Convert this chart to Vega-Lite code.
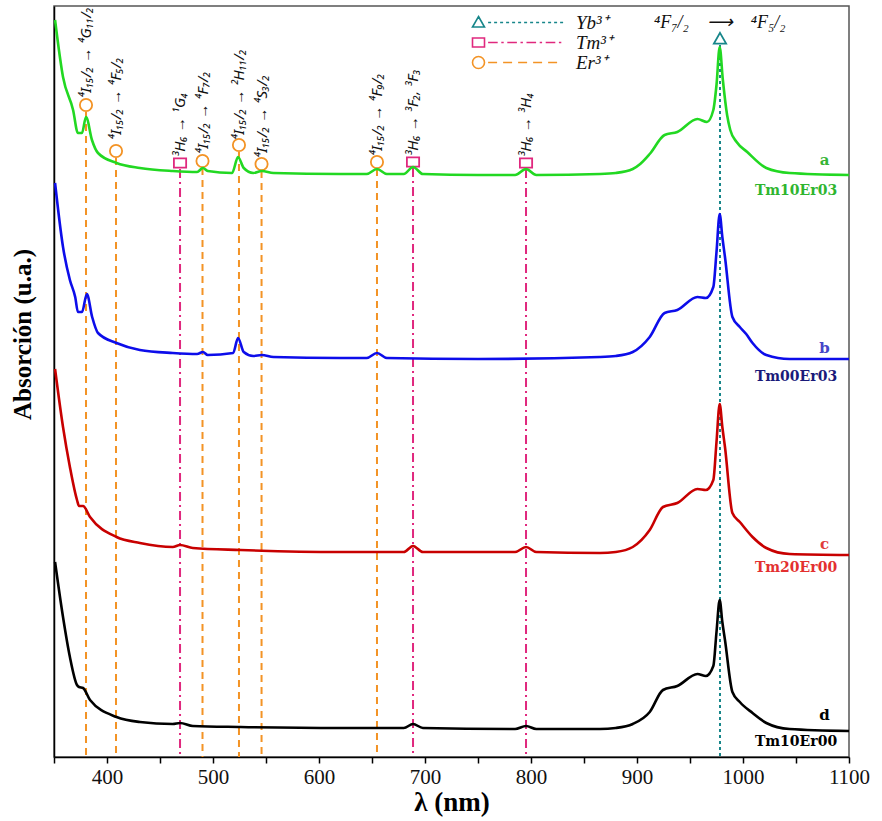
{
  "$schema": "https://vega.github.io/schema/vega-lite/v6.json",
  "autosize": {"type": "none"},
  "padding": {"left": 54, "top": 6, "right": 33, "bottom": 64},
  "width": 795,
  "height": 751,
  "background": "white",
  "config": {
    "view": {"stroke": "#555", "strokeWidth": 1.5},
    "axis": {"domainColor": "#000", "domainWidth": 1.5, "tickColor": "#000", "grid": false}
  },
  "datasets": {
    "curves": [
      {"s":"a","nm":351,"A":737},{"s":"a","nm":358.5,"A":680},{"s":"a","nm":368,"A":647},{"s":"a","nm":372.6,"A":624},{"s":"a","nm":376.4,"A":624},{"s":"a","nm":380.2,"A":640},{"s":"a","nm":385.8,"A":617},{"s":"a","nm":391.5,"A":604},{"s":"a","nm":409,"A":594},{"s":"a","nm":431,"A":589},{"s":"a","nm":462,"A":586},{"s":"a","nm":485,"A":585},{"s":"a","nm":490.5,"A":589},{"s":"a","nm":495,"A":586},{"s":"a","nm":518,"A":584},{"s":"a","nm":523.6,"A":600},{"s":"a","nm":529,"A":589},{"s":"a","nm":538,"A":584},{"s":"a","nm":546,"A":586},{"s":"a","nm":557,"A":584},{"s":"a","nm":620,"A":583},{"s":"a","nm":645,"A":583},{"s":"a","nm":654.7,"A":588},{"s":"a","nm":664,"A":583},{"s":"a","nm":680,"A":583},{"s":"a","nm":688.7,"A":590},{"s":"a","nm":698,"A":583},{"s":"a","nm":750,"A":582},{"s":"a","nm":785,"A":582},{"s":"a","nm":795.3,"A":588},{"s":"a","nm":805,"A":582},{"s":"a","nm":865,"A":583},{"s":"a","nm":880,"A":584},{"s":"a","nm":896,"A":588},{"s":"a","nm":903,"A":593},{"s":"a","nm":912,"A":603},{"s":"a","nm":926,"A":622},{"s":"a","nm":938,"A":625},{"s":"a","nm":957,"A":638},{"s":"a","nm":966,"A":635},{"s":"a","nm":972,"A":647},{"s":"a","nm":975,"A":672},{"s":"a","nm":978,"A":710},{"s":"a","nm":981,"A":677},{"s":"a","nm":985,"A":642},{"s":"a","nm":988,"A":627},{"s":"a","nm":994,"A":615},{"s":"a","nm":1004,"A":605},{"s":"a","nm":1022,"A":589},{"s":"a","nm":1044,"A":584},{"s":"a","nm":1100,"A":582},
      {"s":"b","nm":351,"A":574},{"s":"b","nm":358.5,"A":510},{"s":"b","nm":365,"A":477},{"s":"b","nm":370,"A":460},{"s":"b","nm":372.6,"A":445},{"s":"b","nm":376.4,"A":445},{"s":"b","nm":381,"A":463},{"s":"b","nm":386,"A":440},{"s":"b","nm":391.5,"A":424},{"s":"b","nm":409,"A":414},{"s":"b","nm":431,"A":407},{"s":"b","nm":462,"A":404},{"s":"b","nm":485,"A":403},{"s":"b","nm":490.5,"A":405},{"s":"b","nm":495,"A":402},{"s":"b","nm":519,"A":404},{"s":"b","nm":523.6,"A":419},{"s":"b","nm":529,"A":405},{"s":"b","nm":538,"A":401},{"s":"b","nm":546,"A":402},{"s":"b","nm":557,"A":400},{"s":"b","nm":620,"A":399},{"s":"b","nm":645,"A":399},{"s":"b","nm":654.7,"A":404},{"s":"b","nm":664,"A":399},{"s":"b","nm":750,"A":398},{"s":"b","nm":865,"A":400},{"s":"b","nm":880,"A":401},{"s":"b","nm":896,"A":405},{"s":"b","nm":912,"A":420},{"s":"b","nm":926,"A":444},{"s":"b","nm":938,"A":447},{"s":"b","nm":957,"A":460},{"s":"b","nm":965,"A":459},{"s":"b","nm":972,"A":470},{"s":"b","nm":975,"A":505},{"s":"b","nm":978,"A":543},{"s":"b","nm":980.5,"A":520},{"s":"b","nm":983,"A":500},{"s":"b","nm":990,"A":440},{"s":"b","nm":997,"A":430},{"s":"b","nm":1003,"A":423},{"s":"b","nm":1009,"A":414},{"s":"b","nm":1022,"A":402},{"s":"b","nm":1044,"A":398},{"s":"b","nm":1100,"A":398},
      {"s":"c","nm":351,"A":388},{"s":"c","nm":358.5,"A":330},{"s":"c","nm":365,"A":290},{"s":"c","nm":371.7,"A":257},{"s":"c","nm":373.6,"A":251},{"s":"c","nm":377.4,"A":251},{"s":"c","nm":384,"A":240},{"s":"c","nm":409,"A":220},{"s":"c","nm":431,"A":214},{"s":"c","nm":462,"A":210},{"s":"c","nm":468.9,"A":212},{"s":"c","nm":481,"A":209},{"s":"c","nm":526,"A":207},{"s":"c","nm":620,"A":205},{"s":"c","nm":680,"A":205},{"s":"c","nm":688.7,"A":211},{"s":"c","nm":698,"A":205},{"s":"c","nm":785,"A":205},{"s":"c","nm":795.3,"A":210},{"s":"c","nm":805,"A":205},{"s":"c","nm":865,"A":204},{"s":"c","nm":880,"A":205},{"s":"c","nm":896,"A":210},{"s":"c","nm":912,"A":227},{"s":"c","nm":924.5,"A":250},{"s":"c","nm":938,"A":254},{"s":"c","nm":957,"A":268},{"s":"c","nm":965,"A":267},{"s":"c","nm":972,"A":277},{"s":"c","nm":975,"A":315},{"s":"c","nm":978,"A":353},{"s":"c","nm":980.5,"A":330},{"s":"c","nm":983,"A":310},{"s":"c","nm":990,"A":244},{"s":"c","nm":997,"A":235},{"s":"c","nm":1009,"A":220},{"s":"c","nm":1022,"A":209},{"s":"c","nm":1044,"A":203},{"s":"c","nm":1100,"A":202},
      {"s":"d","nm":351,"A":195},{"s":"d","nm":358.5,"A":140},{"s":"d","nm":365,"A":100},{"s":"d","nm":371.7,"A":72},{"s":"d","nm":373.6,"A":70},{"s":"d","nm":377.4,"A":69},{"s":"d","nm":384,"A":57},{"s":"d","nm":409,"A":40},{"s":"d","nm":431,"A":35},{"s":"d","nm":462,"A":33},{"s":"d","nm":468.9,"A":34},{"s":"d","nm":481,"A":31},{"s":"d","nm":526,"A":30},{"s":"d","nm":620,"A":29},{"s":"d","nm":680,"A":29},{"s":"d","nm":688.7,"A":33},{"s":"d","nm":698,"A":29},{"s":"d","nm":785,"A":28},{"s":"d","nm":795.3,"A":31},{"s":"d","nm":805,"A":28},{"s":"d","nm":865,"A":28},{"s":"d","nm":880,"A":29},{"s":"d","nm":896,"A":33},{"s":"d","nm":912,"A":45},{"s":"d","nm":924.5,"A":67},{"s":"d","nm":938,"A":71},{"s":"d","nm":957,"A":83},{"s":"d","nm":965,"A":81},{"s":"d","nm":972,"A":91},{"s":"d","nm":975,"A":125},{"s":"d","nm":978,"A":157},{"s":"d","nm":980.5,"A":135},{"s":"d","nm":983,"A":117},{"s":"d","nm":990,"A":65},{"s":"d","nm":997,"A":55},{"s":"d","nm":1009,"A":44},{"s":"d","nm":1022,"A":34},{"s":"d","nm":1044,"A":28},{"s":"d","nm":1100,"A":26}
    ],
    "bands": [
      {"ion":"Er³⁺","nm":380.2,"A":652},{"ion":"Er³⁺","nm":408.5,"A":606},{"ion":"Tm³⁺","nm":468.9,"A":594},{"ion":"Er³⁺","nm":490.1,"A":596},{"ion":"Er³⁺","nm":524.5,"A":612},{"ion":"Er³⁺","nm":545.8,"A":593},{"ion":"Er³⁺","nm":654.7,"A":595},{"ion":"Tm³⁺","nm":688.7,"A":595},{"ion":"Tm³⁺","nm":795.3,"A":594},{"ion":"Yb³⁺","nm":978.3,"A":718}
    ],
    "transitions": [
      {"nm":380.2,"A":659,"t":"⁴I₁₅/₂ → ⁴G₁₁/₂"},
      {"nm":408.5,"A":617,"t":"⁴I₁₅/₂ → ⁴F₅/₂"},
      {"nm":468.9,"A":600,"t":"³H₆ → ¹G₄"},
      {"nm":490.1,"A":603,"t":"⁴I₁₅/₂ → ⁴F₇/₂"},
      {"nm":524.5,"A":617,"t":"⁴I₁₅/₂ → ²H₁₁/₂"},
      {"nm":545.8,"A":599,"t":"⁴I₁₅/₂ → ⁴S₃/₂"},
      {"nm":654.7,"A":601,"t":"⁴I₁₅/₂ → ⁴F₉/₂"},
      {"nm":688.7,"A":601,"t":"³H₆ → ³F₂, ³F₃"},
      {"nm":795.3,"A":600,"t":"³H₆ → ³H₄"}
    ],
    "names": [
      {"k":"a","nm":1077,"A":597,"kind":"letter"},
      {"k":"Tm10Er03","nm":1050,"A":566,"kind":"name"},
      {"k":"b","nm":1077,"A":409,"kind":"letter"},
      {"k":"Tm00Er03","nm":1050,"A":380,"kind":"name"},
      {"k":"c","nm":1077,"A":213,"kind":"letter"},
      {"k":"Tm20Er00","nm":1050,"A":189,"kind":"name"},
      {"k":"d","nm":1077,"A":42,"kind":"letter"},
      {"k":"Tm10Er00","nm":1050,"A":15,"kind":"name"}
    ],
    "yb": [{"nm":978,"A":734,"t":"⁴F₇/₂\u2002\u2002⟶\u2002\u2002⁴F₅/₂"}]
  },
  "encoding": {
    "x": {"field":"nm","type":"quantitative","scale":{"domain":[350,1100],"nice":false,"zero":false},
      "axis":{"title":"λ (nm)","values":[350,400,450,500,550,600,650,700,750,800,850,900,950,1000,1050,1100],
        "labelExpr":"datum.value % 100 === 0 ? datum.label : ''","format":"d","labelOverlap":false,"labelFlush":false,
        "tickSize":6,"tickWidth":1.5,"labelFont":"Liberation Serif","labelFontSize":21,"labelColor":"#111","labelPadding":3,
        "titleFont":"Liberation Serif","titleFontSize":27,"titleFontWeight":"bold","titlePadding":2,"titleColor":"#000"}},
    "y": {"field":"A","type":"quantitative","scale":{"domain":[0,751],"nice":false,"zero":true},
      "axis":{"title":"Absorción (u.a.)","ticks":false,"labels":false,"titleFont":"Liberation Serif","titleFontSize":25,
        "titleFontWeight":"bold","titleColor":"#000","titleX":-32,"titleY":328,"titleBaseline":"middle","titleAlign":"center"}}
  },
  "layer": [
    {
      "data": {"name":"bands"},
      "transform": [{"filter":"datum.ion === 'Er³⁺'"}],
      "mark": {"type":"point","filled":false,"fill":"white","fillOpacity":1,"strokeWidth":1.8,"size":150,"opacity":1,
        "shape":"M1,0A1,1,0,1,1,-1,0A1,1,0,1,1,1,0Z"},
      "encoding": {
        "color": {"field":"ion","type":"nominal","scale":{"domain":["Yb³⁺","Tm³⁺","Er³⁺"],"range":["#17868a","#e0287e","#f39325"]},
          "legend":{"orient":"none","legendX":415,"legendY":7,"title":null,"symbolSize":144,"symbolStrokeWidth":1.6,
            "labelOffset":88,"labelFont":"Liberation Serif","labelFontStyle":"italic","labelFontSize":19,"labelColor":"#111",
            "rowPadding":-6,"padding":0,"symbolFillColor":"white",
            "symbolType":{"expr":"datum.value === 'Yb³⁺' ? 'M0,-1L1,0.75L-1,0.75ZM1.6,0L2.1,0M2.6,0L3.1,0M3.6,0L4.1,0M4.6,0L5.1,0M5.6,0L6.1,0M6.6,0L7.1,0M7.6,0L8.1,0M8.6,0L9.1,0M9.6,0L10.1,0M10.6,0L11.1,0M11.6,0L12.1,0M12.6,0L13.1,0M13.6,0L14.1,0' : datum.value === 'Tm³⁺' ? 'M-1,-0.75L1,-0.75L1,0.75L-1,0.75ZM1.6,0L3.2,0M3.8,0L4.2,0M4.8,0L6.4,0M7,0L7.4,0M8,0L9.6,0M10.2,0L10.6,0M11.2,0L12.8,0M13.4,0L13.8,0' : 'M1,0A1,1,0,1,1,-1,0A1,1,0,1,1,1,0ZM1.6,0L3.1,0M4.1,0L5.6,0M6.6,0L8.1,0M9.1,0L10.6,0M11.6,0L13.1,0'"}}}
      }
    },
    {
      "data": {"name":"bands"},
      "transform": [{"filter":"datum.ion === 'Tm³⁺'"}],
      "mark": {"type":"point","filled":false,"fill":"white","fillOpacity":1,"strokeWidth":1.8,"size":150,"opacity":1,
        "shape":"M-1,-0.75L1,-0.75L1,0.75L-1,0.75Z"},
      "encoding": {
        "color": {"field":"ion","type":"nominal","scale":{"domain":["Yb³⁺","Tm³⁺","Er³⁺"],"range":["#17868a","#e0287e","#f39325"]}}}
    },
    {
      "data": {"name":"bands"},
      "transform": [{"filter":"datum.ion === 'Yb³⁺'"}],
      "mark": {"type":"point","filled":false,"fill":"white","fillOpacity":1,"strokeWidth":1.8,"size":150,"opacity":1,
        "shape":"M0,-1L1,0.75L-1,0.75Z"},
      "encoding": {
        "color": {"field":"ion","type":"nominal","scale":{"domain":["Yb³⁺","Tm³⁺","Er³⁺"],"range":["#17868a","#e0287e","#f39325"]}}}
    },
    {
      "data": {"name":"bands"},
      "transform": [{"filter":"datum.ion === 'Er³⁺'"}],
      "mark": {"type":"rule","strokeWidth":2,"strokeDash":[7,5],"yOffset":7},
      "encoding": {"y2": {"datum":0},
        "color": {"field":"ion","type":"nominal","scale":{"domain":["Yb³⁺","Tm³⁺","Er³⁺"],"range":["#17868a","#e0287e","#f39325"]}}}
    },
    {
      "data": {"name":"bands"},
      "transform": [{"filter":"datum.ion === 'Tm³⁺'"}],
      "mark": {"type":"rule","strokeWidth":2,"strokeDash":[9,4,2,4],"yOffset":6},
      "encoding": {"y2": {"datum":0},
        "color": {"field":"ion","type":"nominal","scale":{"domain":["Yb³⁺","Tm³⁺","Er³⁺"],"range":["#17868a","#e0287e","#f39325"]}}}
    },
    {
      "data": {"name":"bands"},
      "transform": [{"filter":"datum.ion === 'Yb³⁺'"}],
      "mark": {"type":"rule","strokeWidth":2,"strokeDash":[3,3],"yOffset":6},
      "encoding": {"y2": {"datum":0},
        "color": {"field":"ion","type":"nominal","scale":{"domain":["Yb³⁺","Tm³⁺","Er³⁺"],"range":["#17868a","#e0287e","#f39325"]}}}
    },
    {
      "data": {"name":"curves"},
      "mark": {"type":"line","strokeWidth":2.6,"interpolate":"monotone"},
      "encoding": {
        "stroke": {"field":"s","type":"nominal","legend":null,"scale":{"domain":["a","b","c","d"],"range":["#22d822","#0d0dea","#c80000","#000000"]}}
      }
    },
    {
      "data": {"name":"transitions"},
      "mark": {"type":"text","angle":270,"align":"left","baseline":"middle","font":"Noto Sans","fontSize":15,"fontStyle":"italic","color":"#111"},
      "encoding": {"text": {"field":"t"}}
    },
    {
      "data": {"name":"yb"},
      "mark": {"type":"text","align":"center","baseline":"middle","font":"Liberation Serif","fontSize":18,"fontStyle":"italic","color":"#111"},
      "encoding": {"text": {"field":"t"}}
    },
    {
      "data": {"name":"names"},
      "transform": [{"filter":"datum.kind === 'letter'"}],
      "mark": {"type":"text","align":"center","baseline":"middle","font":"DejaVu Serif","fontSize":15,"fontWeight":"bold"},
      "encoding": {"text": {"field":"k"},
        "fill": {"field":"k","type":"nominal","legend":null,"scale":{"domain":["a","Tm10Er03","b","Tm00Er03","c","Tm20Er00","d","Tm10Er00"],
          "range":["#36b536","#2fb52f","#4646c8","#1a1a7a","#e03a3a","#e33030","#000000","#000000"]}}}
    },
    {
      "data": {"name":"names"},
      "transform": [{"filter":"datum.kind === 'name'"}],
      "mark": {"type":"text","align":"center","baseline":"middle","font":"DejaVu Serif","fontSize":14,"fontWeight":"bold"},
      "encoding": {"text": {"field":"k"},
        "fill": {"field":"k","type":"nominal","legend":null,"scale":{"domain":["a","Tm10Er03","b","Tm00Er03","c","Tm20Er00","d","Tm10Er00"],
          "range":["#36b536","#2fb52f","#4646c8","#1a1a7a","#e03a3a","#e33030","#000000","#000000"]}}}
    }
  ]
}
